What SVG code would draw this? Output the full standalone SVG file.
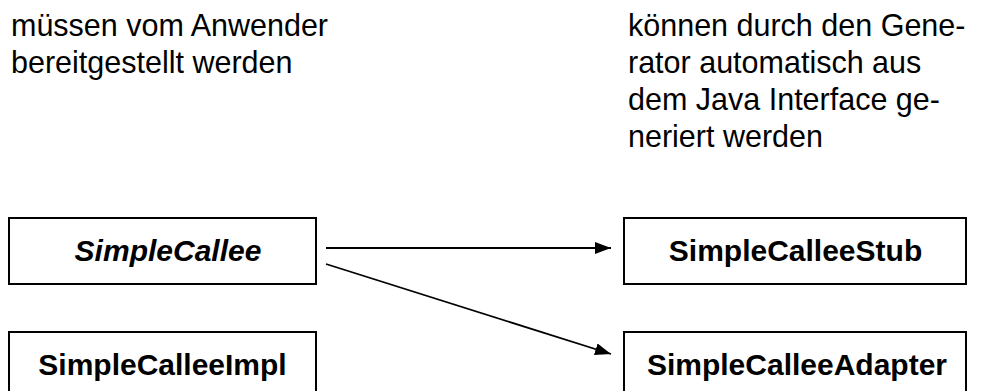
<svg xmlns="http://www.w3.org/2000/svg" width="986" height="391" viewBox="0 0 986 391">
  <style>
    .note { font-family: "Liberation Sans", Arial, sans-serif; font-size: 30.5px; fill: #000; }
    .box { fill: #fff; stroke: #000; stroke-width: 2; }
    .label { font-family: "Liberation Sans", Arial, sans-serif; font-size: 30px; font-weight: bold; fill: #000; text-anchor: middle; }
    .conn { stroke: #000; stroke-width: 1.8; fill: none; }
  </style>
  <defs>
    <marker id="arrow" markerWidth="16" markerHeight="12" refX="16" refY="6" orient="auto" markerUnits="userSpaceOnUse">
      <path d="M0,0 L16,6 L0,12 Z" fill="#000"/>
    </marker>
  </defs>
  <rect width="986" height="391" fill="#fff"/>
  <g id="note-left">
    <text class="note" x="11" y="36">müssen vom Anwender</text>
    <text class="note" x="11" y="73">bereitgestellt werden</text>
  </g>
  <g id="note-right">
    <text class="note" x="628" y="36">können durch den Gene-</text>
    <text class="note" x="628" y="73">rator automatisch aus</text>
    <text class="note" x="628" y="110">dem Java Interface ge-</text>
    <text class="note" x="628" y="147">neriert werden</text>
  </g>
  <g id="simplecallee">
    <rect class="box" x="9" y="218" width="307" height="66"/>
    <text class="label" x="168" y="261" font-style="italic">SimpleCallee</text>
  </g>
  <g id="simplecalleeimpl">
    <rect class="box" x="9" y="332" width="307" height="66"/>
    <text class="label" x="162.5" y="375">SimpleCalleeImpl</text>
  </g>
  <g id="simplecalleestub">
    <rect class="box" x="624" y="218" width="342" height="66"/>
    <text class="label" x="795.5" y="261">SimpleCalleeStub</text>
  </g>
  <g id="simplecalleeadapter">
    <rect class="box" x="624" y="332" width="342" height="66"/>
    <text class="label" x="797" y="375">SimpleCalleeAdapter</text>
  </g>
  <g id="connectors">
    <line class="conn" x1="326" y1="248" x2="611" y2="248" marker-end="url(#arrow)"/>
    <line class="conn" x1="326" y1="264" x2="611" y2="354" marker-end="url(#arrow)"/>
  </g>
</svg>
